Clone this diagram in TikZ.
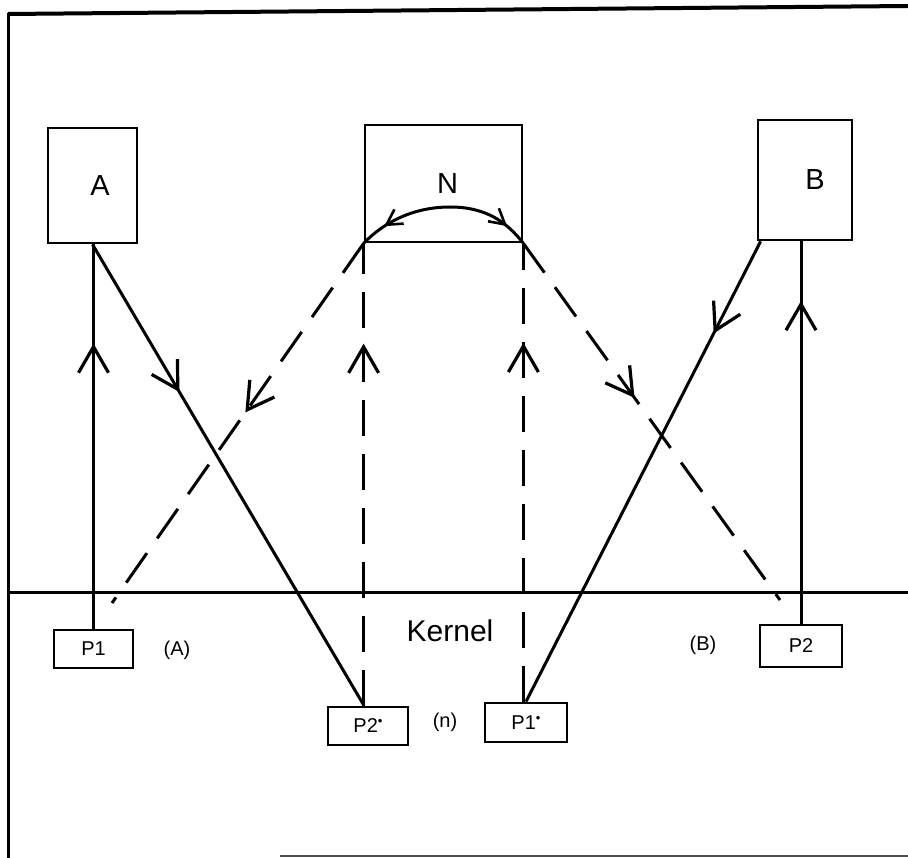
\documentclass[tikz,border=0pt]{standalone}
\usepackage{fontspec}
\setmainfont{Liberation Sans}
\usetikzlibrary{arrows.meta,decorations.markings}

\tikzset{
  Vbig/.tip={Straight Barb[length=26pt,width=30pt,line width=3.2pt]},
  Vsmall/.tip={Straight Barb[length=15pt,width=17pt,line width=2.6pt]},
  box/.style={draw,line width=2.8pt,inner sep=0pt,anchor=center},
  bigbox/.style={box,minimum width=#1,font=\fontsize{29}{29}\selectfont},
  pbox/.style={box,minimum width=#1,font=\fontsize{20}{20}\selectfont},
  tag/.style={font=\fontsize{20}{20}\selectfont,inner sep=0pt},
  wire/.style={line width=3pt},
  dline/.style={wire,dash pattern=on 36pt off 18pt},
  midarrow/.style={postaction={decorate,decoration={markings,
      mark=at position #1 with {\pgfsetdash{}{0pt}\arrow{Vbig}}}}},
  arcarrow/.style={postaction={decorate,decoration={markings,
      mark=at position #1 with {\pgfsetdash{}{0pt}\arrow{Vsmall}}}}},
}
\newcommand{\starmark}{\raisebox{0.35em}{\fontsize{13}{13}\selectfont\textbullet}}

\begin{document}
\begin{tikzpicture}[x=1pt,y=-1pt]
  \useasboundingbox (0,0) rectangle (908,858);

  % frame
  \draw[line width=4pt] (8,14) -- (908,6);
  \draw[line width=3pt] (8,13) -- (8,858);
  \draw[line width=2pt,black!70] (280,856) -- (908,856);

  % kernel boundary
  \draw[line width=3pt] (8,592) -- (908,592);
  \node[font=\fontsize{30}{30}\selectfont] (kernel) at (450,631) {Kernel};

  % user-level boxes
  \node[bigbox=89pt,minimum height=115pt] (A) at (92.5,185.5) {\hspace*{15pt}A};
  \node[bigbox=157pt,minimum height=117pt] (N) at (443.5,183.5) {\hspace*{8pt}N};
  \node[bigbox=94pt,minimum height=120pt] (B) at (805,180) {\hspace*{20pt}B};

  % kernel-level boxes
  \node[pbox=79pt,minimum height=38pt] (P1) at (93.5,649) {P1};
  \node[pbox=80pt,minimum height=38pt] (P2s) at (368,726) {P2\starmark};
  \node[pbox=82pt,minimum height=39pt] (P1s) at (526,722.5) {P1\starmark};
  \node[pbox=82pt,minimum height=42pt] (P2) at (801,646) {P2};

  % side labels
  \node[tag] (lA) at (177,650) {(A)};
  \node[tag] (ln) at (445,722) {(n)};
  \node[tag] (lB) at (703,645) {(B)};

  % free ends of the dashed diagonals
  \coordinate (eL) at (112,603);
  \coordinate (eR) at (780,600);
  \coordinate (top) at (450,207);

  % arc inside N
  \draw[wire,arcarrow=0.72] (top) .. controls (415,207) and (385,221) .. (N.south west);
  \draw[wire,arcarrow=0.72] (top) .. controls (485,207) and (506,221) .. (N.south east);

  % solid connectors
  \draw[wire,midarrow=0.742] (P1.north) -- (P1.north |- A.south);
  \draw[wire,midarrow=0.32] (A.south) -- ([xshift=-4pt]P2s.north);
  \draw[wire,midarrow=0.2] ([xshift=4pt]B.south west) -- (P1s.north);
  \draw[wire,midarrow=0.844] (P2.north) -- (P2.north |- B.south);

  % dashed connectors
  \draw[dline,midarrow=0.47] (N.south west) -- (eL);
  \draw[dline,midarrow=0.783] (N.south west |- P2s.north) -- (N.south west);
  \draw[dline,midarrow=0.783] (N.south east |- P1s.north) -- (N.south east);
  \draw[dline,midarrow=0.433] (N.south east) -- (eR);
\end{tikzpicture}
\end{document}
